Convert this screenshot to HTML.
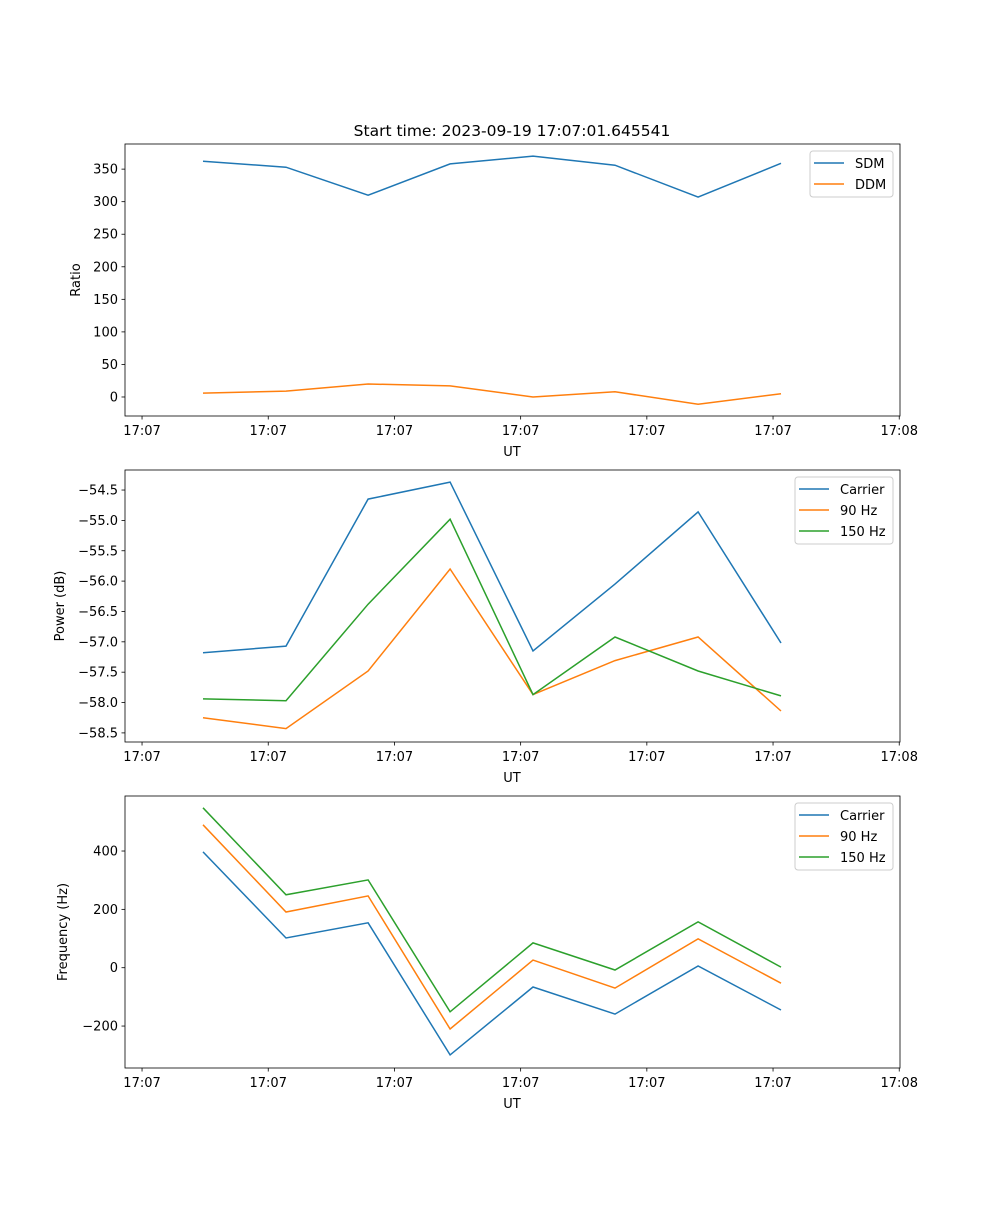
<!DOCTYPE html>
<html><head><meta charset="utf-8"><style>
body{margin:0;background:#fff}
svg text{font-family:"DejaVu Sans","Liberation Sans",sans-serif;font-size:13px;fill:#000}
</style></head><body>
<svg id="fig" width="1000" height="1200" xmlns="http://www.w3.org/2000/svg">
<rect width="1000" height="1200" fill="#fff"/>
<text x="512" y="136" text-anchor="middle" style="font-size:15.5px">Start time: 2023-09-19 17:07:01.645541</text>
</svg>
<script>
const times = [0.483, 1.141, 1.791, 2.441, 3.098, 3.748, 4.406, 5.063];
const xTickLabels = ["17:07","17:07","17:07","17:07","17:07","17:07","17:08"];
const sdm = [362, 353, 310, 358, 370, 356, 307, 359];
const ddm = [6, 9, 20, 17, 0, 8, -11, 5];
const powCarrier = [-57.18, -57.07, -54.65, -54.37, -57.15, -56.05, -54.86, -57.02];
const pow90 = [-58.25, -58.43, -57.48, -55.80, -57.87, -57.31, -56.92, -58.14];
const pow150 = [-57.94, -57.97, -56.38, -54.98, -57.87, -56.92, -57.48, -57.89];
const freqCarrier = [397, 102, 154, -299, -66, -159, 6, -145];
const freq90 = [490, 191, 246, -210, 26, -70, 99, -53];
const freq150 = [548, 250, 301, -151, 85, -8, 157, 2];
const ratioTicks = [0,50,100,150,200,250,300,350];
const powTicks = [-58.5,-58,-57.5,-57,-56.5,-56,-55.5,-55,-54.5];
const freqTicks = [-200,0,200,400];

const svg = document.getElementById('fig');
const NS = 'http://www.w3.org/2000/svg';
function mk(tag, attrs, parent){const e=document.createElementNS(NS,tag);for(const k in attrs)e.setAttribute(k,attrs[k]);(parent||svg).appendChild(e);return e;}
const X0=125,X1=900,XMIN=-0.135,XMAX=6.006;
const xs = v => X0 + (v-XMIN)/(XMAX-XMIN)*(X1-X0);
const colors={blue:'#1f77b4',orange:'#ff7f0e',green:'#2ca02c'};

function panel(name, top, ymin, ymax, yticks, fmt, ylabel, series, legend){
  const bot = top+272;
  const ys = v => bot - (v-ymin)/(ymax-ymin)*(bot-top);
  const g = mk('g',{});
  
  
  series.forEach(s=>{
    const p = mk('polyline',{points:s.data.map((v,i)=>xs(times[i]).toFixed(1)+','+ys(v).toFixed(1)).join(' '),fill:'none',stroke:s.color,'stroke-width':1.5},g);
    
    
  });
  mk('rect',{x:X0,y:top,width:X1-X0,height:bot-top,fill:'none',stroke:'#000','stroke-width':0.8},g);
  xTickLabels.forEach((l,i)=>{
    const x=xs(i);
    mk('line',{x1:x,x2:x,y1:bot,y2:bot+3.5,stroke:'#000','stroke-width':0.8},g);
    const t=mk('text',{x:x,y:bot+19,'text-anchor':'middle'},g);t.textContent=l;
    
    
  });
  yticks.forEach(v=>{
    const y=ys(v);
    mk('line',{x1:X0-3.5,x2:X0,y1:y,y2:y,stroke:'#000','stroke-width':0.8},g);
    const t=mk('text',{x:X0-7,y:y+4.5,'text-anchor':'end'},g);t.textContent=fmt(v);
    
    
  });
  const xl=mk('text',{x:512,y:bot+40,'text-anchor':'middle'},g);xl.textContent='UT';
  
  
  const yl=mk('text',{x:0,y:0,'text-anchor':'middle',transform:`translate(${legend.ylx},${(top+bot)/2}) rotate(-90)`},g);yl.textContent=ylabel;
  
  
  const lg=mk('g',{},g);
  
  
  mk('rect',{x:legend.x,y:top+7,width:893-legend.x,height:series.length*21+4,rx:3,fill:'#fff','fill-opacity':0.8,stroke:'#ccc','stroke-width':1},lg);
  series.forEach((s,i)=>{
    const y=top+19+i*21;
    mk('line',{x1:legend.x+4,x2:legend.x+34,y1:y,y2:y,stroke:s.color,'stroke-width':1.5},lg);
    const t=mk('text',{x:legend.x+45,y:y+5},lg);t.textContent=s.label;
    
    
  });
}
panel('ratio-panel',144,-29.2,388.6,ratioTicks,v=>String(v),'Ratio',
  [{key:'sdm',label:'SDM',data:sdm,color:colors.blue},{key:'ddm',label:'DDM',data:ddm,color:colors.orange}],{x:810,ylx:80});
panel('power-panel',470,-58.65,-54.17,powTicks,v=>v.toFixed(1).replace('-','\u2212'),'Power (dB)',
  [{key:'carrier',label:'Carrier',data:powCarrier,color:colors.blue},{key:'90hz',label:'90 Hz',data:pow90,color:colors.orange},{key:'150hz',label:'150 Hz',data:pow150,color:colors.green}],{x:795,ylx:64});
panel('frequency-panel',796,-343.8,588.6,freqTicks,v=>String(v).replace('-','\u2212'),'Frequency (Hz)',
  [{key:'carrier',label:'Carrier',data:freqCarrier,color:colors.blue},{key:'90hz',label:'90 Hz',data:freq90,color:colors.orange},{key:'150hz',label:'150 Hz',data:freq150,color:colors.green}],{x:795,ylx:67});
</script>
</body></html>
